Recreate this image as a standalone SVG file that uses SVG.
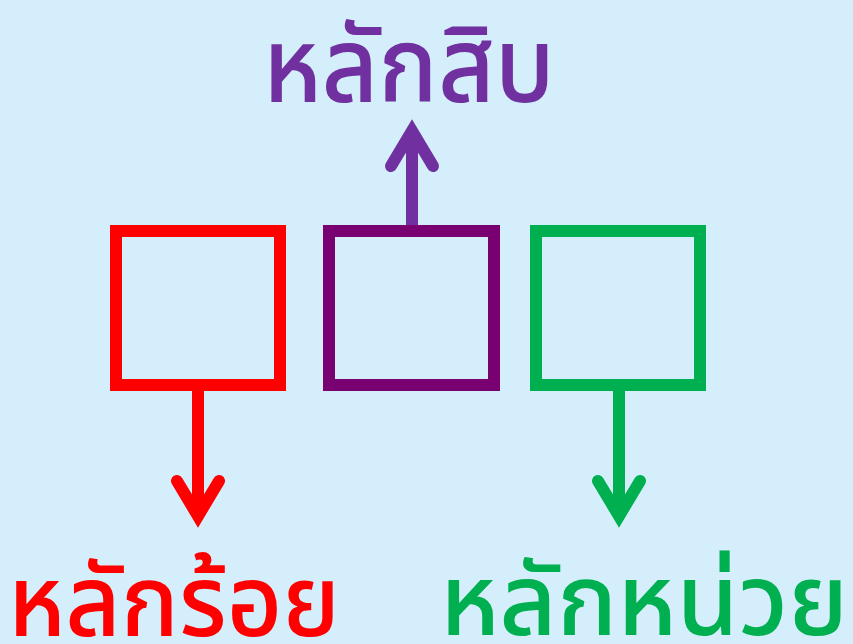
<svg xmlns="http://www.w3.org/2000/svg" width="853" height="644" viewBox="0 0 853 644">
<style>
.box{fill:none;stroke-width:12}
.ln{fill:none;stroke-width:12}
.hd{fill:none;stroke-width:12;stroke-linecap:round;stroke-linejoin:miter;stroke-miterlimit:10}
.t{font-family:"Noto Sans Thai","Noto Sans","DejaVu Sans",sans-serif}
</style>
<rect width="853" height="644" fill="#D4EEFB"/>
<g id="connectors">
<line class="ln" x1="198" y1="391" x2="198" y2="515" stroke="#FF0000"/>
<polyline class="hd" points="177,481 198,516 219,481" stroke="#FF0000"/>
<line class="ln" x1="412" y1="225" x2="412" y2="130" stroke="#7030A0"/>
<polyline class="hd" points="391,166 412,131 433,166" stroke="#7030A0"/>
<line class="ln" x1="619" y1="391" x2="619" y2="515" stroke="#00B050"/>
<polyline class="hd" points="598,481 619,516 640,481" stroke="#00B050"/>
</g>
<g id="box-hundreds"><rect class="box" x="116" y="231" width="164" height="154" stroke="#FF0000"/></g>
<g id="box-tens"><rect class="box" x="329" y="231" width="165" height="154" stroke="#780070"/></g>
<g id="box-units"><rect class="box" x="536" y="231" width="164" height="154" stroke="#00B050"/></g>
<g id="label-tens"><text class="t" x="263" y="102" font-size="106" font-weight="500" fill="#7030A0" textLength="292" lengthAdjust="spacingAndGlyphs">หลักสิบ</text></g>
<g id="label-hundreds"><text class="t" x="8" y="636" font-size="100" font-weight="500" fill="#FF0000" textLength="332" lengthAdjust="spacingAndGlyphs">หลักร้อย</text></g>
<g id="label-units"><text class="t" x="440" y="635" font-size="100" font-weight="500" fill="#00B050" textLength="408" lengthAdjust="spacingAndGlyphs">หลักหน่วย</text></g>
</svg>
